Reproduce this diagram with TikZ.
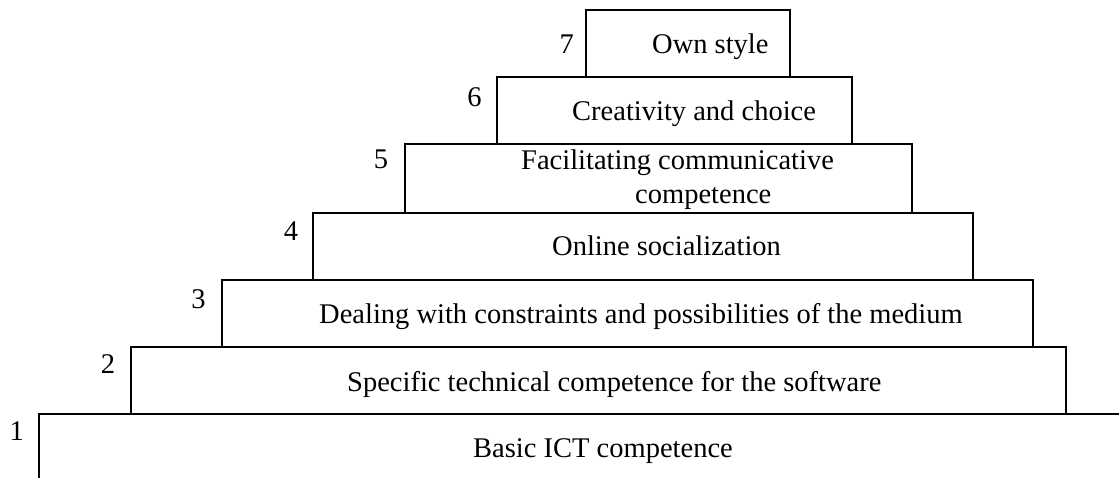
\documentclass[tikz,border=0pt]{standalone}
\usepackage{fontspec}
\setmainfont{Liberation Serif}
\begin{document}
\begin{tikzpicture}[x=1pt,y=-1pt,
  level/.style={line width=1.8pt, line join=miter},
  numlbl/.style={anchor=base, inner sep=0pt, font=\fontsize{28.5}{34}\selectfont},
  txtlbl/.style={anchor=base west, inner sep=0pt, font=\fontsize{28.5}{34}\selectfont}]
\useasboundingbox (0,0) rectangle (1119,477);
% boxes
\draw[level] (586,10) rectangle (790,77);
\draw[level] (497,77) rectangle (852,144);
\draw[level] (405,144) rectangle (912,213);
\draw[level] (313,213) rectangle (973,280);
\draw[level] (222,280) rectangle (1033,347);
\draw[level] (131,347) rectangle (1066,414);
\draw[level] (39,485) -- (39,414) -- (1125,414);
% level numbers
\node[numlbl] (n1) at (16.7,440) {1};
\node[numlbl] (n2) at (108,373) {2};
\node[numlbl] (n3) at (198.5,308) {3};
\node[numlbl] (n4) at (291,240) {4};
\node[numlbl] (n5) at (381,168) {5};
\node[numlbl] (n6) at (474.5,106) {6};
\node[numlbl] (n7) at (566.7,53) {7};
% texts
\node[txtlbl] (t7) at (652,53) {Own style};
\node[txtlbl] (t6) at (572,120) {Creativity and choice};
\node[txtlbl] (t5a) at (521,169) {Facilitating communicative};
\node[txtlbl] (t5b) at (635,203) {competence};
\node[txtlbl] (t4) at (552,255) {Online socialization};
\node[txtlbl] (t3) at (319,323) {Dealing with constraints and possibilities of the medium};
\node[txtlbl] (t2) at (347,391) {Specific technical competence for the software};
\node[txtlbl] (t1) at (473,457) {Basic ICT competence};
\end{tikzpicture}
\end{document}
